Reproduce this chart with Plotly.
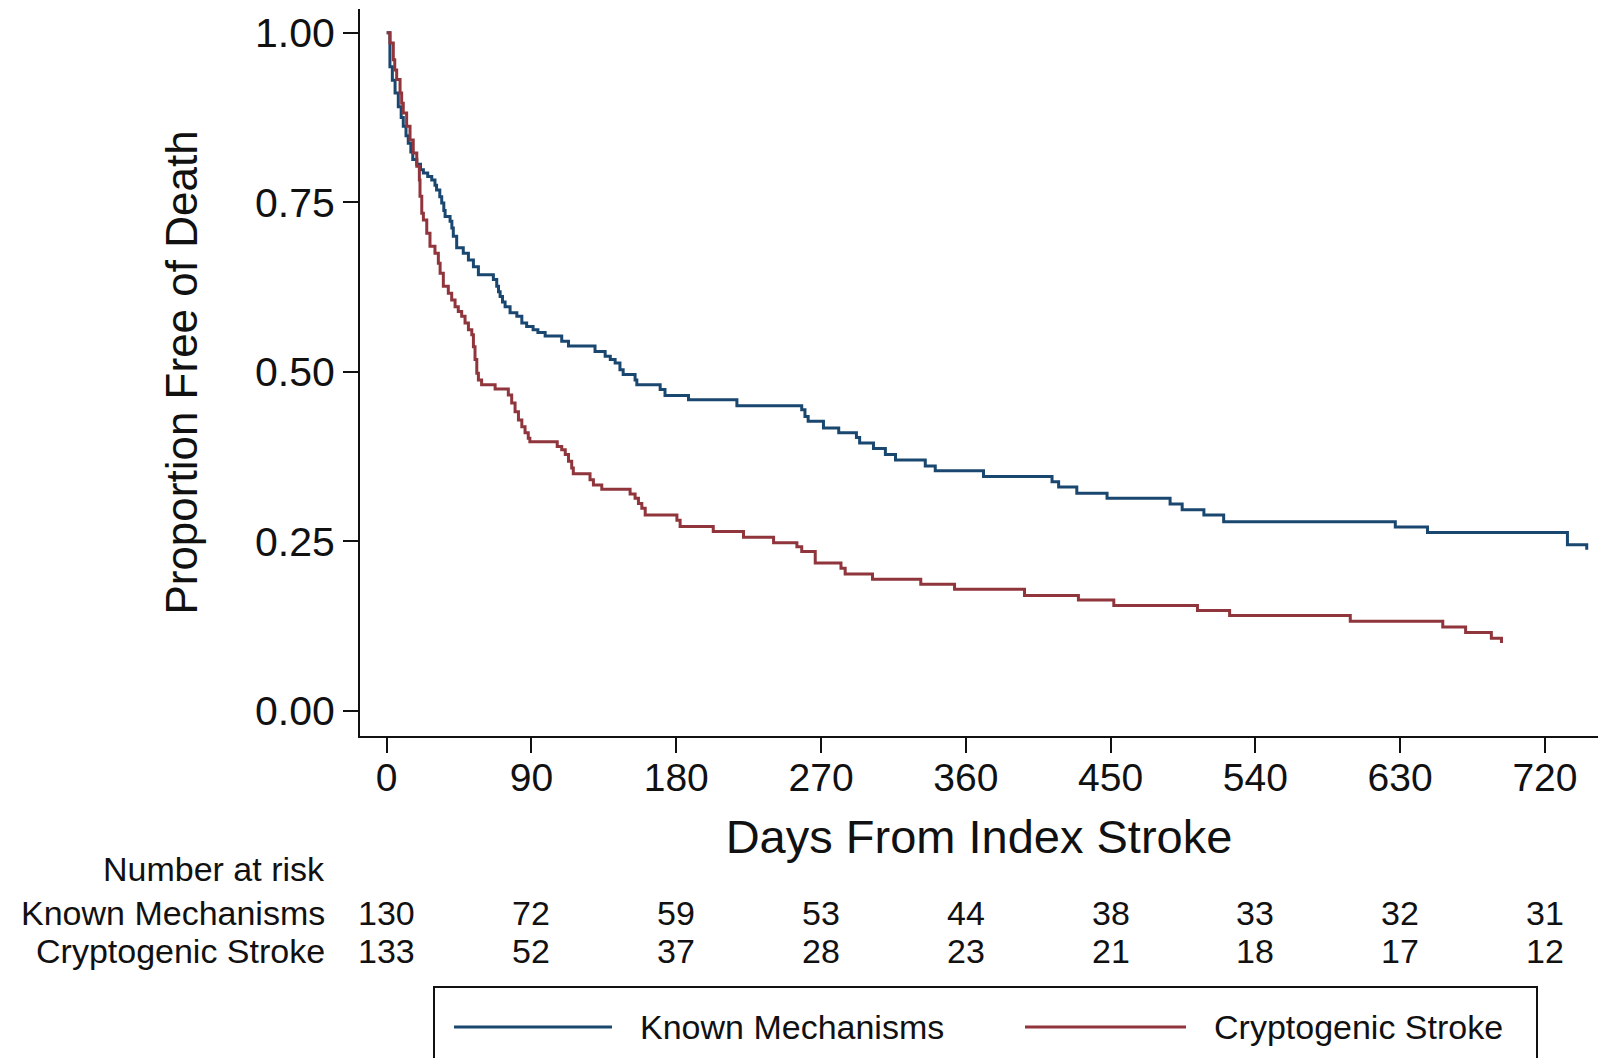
import plotly.graph_objects as go

# Kaplan-Meier estimates: days from index stroke and proportion free of death
known_days = [0, 2, 3.5, 5.2, 7.2, 9, 10.3, 12, 13.4, 15, 16.2, 18.7, 21, 22.8, 25.5, 28,
              30, 31, 33, 34.2, 35.5, 36.3, 39.4, 40.5, 41.4, 43.5, 47.6, 50.8, 53.9, 57,
              66.3, 68.4, 69.5, 70.5, 72, 73.6, 76.7, 80.9, 84, 87, 91, 94, 98.5, 108.8,
              113, 129.5, 135.8, 139, 142, 145, 147, 154.4, 155.5, 170, 173, 187.6, 217.7,
              258, 260, 262, 271.5, 281, 292, 294, 302.6, 310, 316.3, 334.8, 341, 371,
              413.6, 417.7, 429, 447.8, 487, 494.5, 508, 520.3, 627, 647, 734, 746]
known_surv = [1.0, 0.95, 0.93, 0.911, 0.891, 0.875, 0.862, 0.848, 0.837, 0.824, 0.813, 0.806,
              0.798, 0.793, 0.788, 0.783, 0.775, 0.768, 0.758, 0.749, 0.738, 0.729, 0.722,
              0.712, 0.700, 0.683, 0.675, 0.665, 0.655, 0.643, 0.636, 0.626, 0.618, 0.611,
              0.603, 0.596, 0.587, 0.582, 0.572, 0.567, 0.562, 0.558, 0.553, 0.545, 0.538,
              0.530, 0.523, 0.518, 0.513, 0.503, 0.496, 0.488, 0.481, 0.474, 0.465, 0.459,
              0.450, 0.444, 0.434, 0.427, 0.417, 0.410, 0.403, 0.395, 0.387, 0.378, 0.370,
              0.361, 0.354, 0.3456, 0.338, 0.330, 0.321, 0.3137, 0.305, 0.2965, 0.289,
              0.279, 0.271, 0.263, 0.245, 0.2375]

crypto_days = [0, 2, 4.1, 5, 6.2, 8.3, 9.3, 10.3, 12.4, 14.5, 16.5, 18.7, 20.3, 20.7, 21.8,
               22.8, 24.9, 26.9, 30, 32.1, 33.2, 35.2, 38.3, 40.4, 42.5, 44.5, 46.6, 48.7,
               50.8, 52.9, 53.9, 54.9, 56, 57, 59, 67.4, 75.6, 77.7, 79.8, 81.9, 84, 86, 88,
               89, 106, 108.8, 111, 113, 115, 116, 126.4, 128.5, 133.7, 151.3, 154.4, 156.5,
               158.6, 160.7, 180.4, 182.4, 203, 221.8, 240.5, 255, 258, 266.4, 282.4, 285,
               302, 332, 353, 396.5, 430, 452, 504, 524, 599, 656.5, 670.7, 686.7, 693]
crypto_surv = [1.0, 0.985, 0.96, 0.945, 0.931, 0.911, 0.896, 0.8815, 0.862, 0.842, 0.8225,
               0.803, 0.783, 0.759, 0.734, 0.724, 0.7045, 0.685, 0.675, 0.660, 0.6455, 0.626,
               0.616, 0.606, 0.596, 0.589, 0.582, 0.572, 0.562, 0.5546, 0.537, 0.518, 0.498,
               0.488, 0.481, 0.4745, 0.466, 0.454, 0.441, 0.429, 0.419, 0.410, 0.402, 0.397,
               0.390, 0.385, 0.378, 0.368, 0.358, 0.3496, 0.3407, 0.333, 0.327, 0.320,
               0.3137, 0.306, 0.299, 0.289, 0.281, 0.272, 0.2645, 0.256, 0.248, 0.242,
               0.235, 0.218, 0.2105, 0.202, 0.1942, 0.1868, 0.1795, 0.170, 0.1637, 0.1555,
               0.148, 0.1406, 0.1322, 0.1239, 0.1155, 0.107, 0.100]

# Number-at-risk table
risk_days = [0, 90, 180, 270, 360, 450, 540, 630, 720]
known_at_risk = [130, 72, 59, 53, 44, 38, 33, 32, 31]
crypto_at_risk = [133, 52, 37, 28, 23, 21, 18, 17, 12]

group_names = ["Known Mechanisms", "Cryptogenic Stroke"]
group_colors = ["#1a476f", "#90353b"]

y_ticks = [0, 0.25, 0.5, 0.75, 1.0]
y_tick_text = ["0.00", "0.25", "0.50", "0.75", "1.00"]

FONT = "Liberation Sans, Arial, Helvetica, sans-serif"
INK = "#111111"

fig = go.Figure()
for days, surv, name, color in [
    (known_days, known_surv, group_names[0], group_colors[0]),
    (crypto_days, crypto_surv, group_names[1], group_colors[1]),
]:
    fig.add_trace(go.Scatter(
        x=days, y=surv, mode="lines", name=name,
        line=dict(color=color, width=3, shape="hv"),
        showlegend=False,
    ))

W, H = 1598, 1058
L, R, T, B = 360, 0, 9, 322
plot_w = W - L - R
plot_h = H - T - B


def px_to_paper_y(py):
    return (H - B - py) / plot_h


def px_to_paper_x(px):
    return (px - L) / plot_w


annotations = []
# Risk table row labels
label_x = px_to_paper_x(327)
for text, py in [("Number at risk", 869), (group_names[0], 913), (group_names[1], 951)]:
    annotations.append(dict(
        x=label_x, y=px_to_paper_y(py), xref="paper", yref="paper",
        text=text, showarrow=False, xanchor="right", yanchor="middle",
        font=dict(family=FONT, size=34, color=INK),
    ))
# Risk table counts, centred under each day tick
for counts, py in [(known_at_risk, 913), (crypto_at_risk, 951)]:
    for d, n in zip(risk_days, counts):
        annotations.append(dict(
            x=d, y=px_to_paper_y(py), xref="x", yref="paper",
            text=str(n), showarrow=False, xanchor="center", yanchor="middle",
            font=dict(family=FONT, size=34, color=INK),
        ))

# Legend: framed box with long line samples
shapes = [dict(
    type="rect", xref="paper", yref="paper",
    x0=px_to_paper_x(434), x1=px_to_paper_x(1537),
    y0=px_to_paper_y(1075), y1=px_to_paper_y(987),
    line=dict(color=INK, width=2), fillcolor="white", layer="below",
)]
legend_y = px_to_paper_y(1027)
for (x0, x1, tx), name, color in zip(
        [(454, 612, 638), (1025, 1186, 1212)], group_names, group_colors):
    shapes.append(dict(
        type="line", xref="paper", yref="paper",
        x0=px_to_paper_x(x0), x1=px_to_paper_x(x1), y0=legend_y, y1=legend_y,
        line=dict(color=color, width=3),
    ))
    annotations.append(dict(
        x=px_to_paper_x(tx), y=legend_y, xref="paper", yref="paper",
        text=name, showarrow=False, xanchor="left", yanchor="middle",
        font=dict(family=FONT, size=34, color=INK),
    ))

fig.update_layout(
    width=W, height=H,
    margin=dict(l=L, r=R, t=T, b=B, autoexpand=False),
    paper_bgcolor="white", plot_bgcolor="white",
    font=dict(family=FONT, color=INK),
    annotations=annotations, shapes=shapes,
    xaxis=dict(
        range=[-16.6, 753], tickvals=risk_days, ticktext=[str(d) for d in risk_days],
        showline=True, linecolor=INK, linewidth=2, mirror=False,
        ticks="outside", ticklen=15, tickwidth=2, tickcolor=INK,
        showgrid=False, zeroline=False, ticklabelstandoff=-9,
        tickfont=dict(family=FONT, size=39, color=INK),
        title=dict(text="Days From Index Stroke", standoff=22,
                   font=dict(family=FONT, size=47, color=INK)),
    ),
    yaxis=dict(
        range=[-0.037, 1.035], tickvals=y_ticks, ticktext=y_tick_text,
        showline=True, linecolor=INK, linewidth=2, mirror=False,
        ticks="outside", ticklen=15, tickwidth=2, tickcolor=INK,
        showgrid=False, zeroline=False,
        tickfont=dict(family=FONT, size=41, color=INK),
        title=dict(text="Proportion Free of Death", standoff=44,
                   font=dict(family=FONT, size=44, color=INK)),
    ),
)

fig.write_html("out.html")
